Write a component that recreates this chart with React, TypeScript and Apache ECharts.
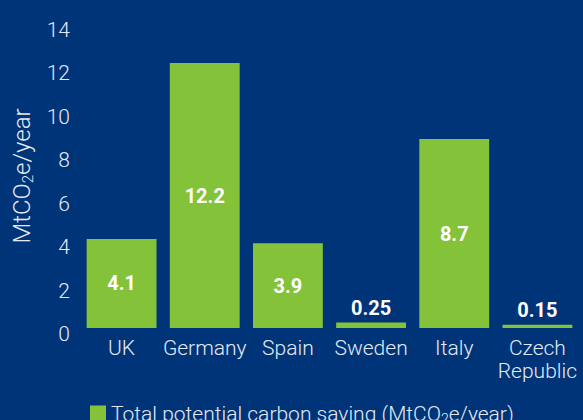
import React, { useEffect, useRef } from "react";
import * as echarts from "echarts";

const categories = ["UK", "Germany", "Spain", "Sweden", "Italy", "Czech\nRepublic"];
const values = [4.1, 12.2, 3.9, 0.25, 8.7, 0.15];
const labelInside = [true, true, true, false, true, false];
const seriesName = "Total potential carbon saving";
const yTicks = { min: 0, max: 14, interval: 2 };

const BG = "#003478";
const GREEN = "#84c23a";
const TEXT = "#e4eaf3";
const FONT = "Roboto";

export default function App() {
  const ref = useRef<HTMLDivElement>(null);
  useEffect(() => {
    if (!ref.current) return;
    const chart = echarts.init(ref.current, undefined, { renderer: "svg" });
    const data = values.map((v, i) => ({
      value: v,
      label: {
        position: labelInside[i] ? "inside" : "top",
        distance: 5,
      },
    }));
    chart.setOption({
      animation: false,
      backgroundColor: BG,
      textStyle: { fontFamily: FONT },
      grid: { left: 80, right: 4, top: 24, bottom: 92 },
      legend: {
        show: true,
        left: 85,
        top: 398,
        itemWidth: 16,
        itemHeight: 16,
        itemGap: 9,
        icon: "rect",
        data: [seriesName],
        formatter: () => "Total potential carbon saving (MtCO{sub|2}e/year)",
        textStyle: {
          color: TEXT,
          fontSize: 21,
          fontWeight: 300,
          fontFamily: FONT,
          rich: {
            sub: { fontSize: 14, color: TEXT, fontWeight: 300, fontFamily: FONT, padding: [10, 0, 0, 0] },
          },
        },
      },
      xAxis: {
        type: "category",
        data: categories,
        axisLine: { show: false },
        axisTick: { show: false },
        axisLabel: {
          color: TEXT,
          fontSize: 21,
          fontWeight: 300,
          fontFamily: FONT,
          margin: 8,
          lineHeight: 23,
          interval: 0,
        },
      },
      yAxis: {
        type: "value",
        min: yTicks.min,
        max: yTicks.max,
        interval: yTicks.interval,
        splitLine: { show: false },
        axisLine: { show: false },
        axisTick: { show: false },
        axisLabel: {
          color: TEXT,
          fontSize: 21,
          fontWeight: 300,
          fontFamily: FONT,
          margin: 10,
          verticalAlign: "top",
          lineHeight: 12,
        },
        name: "MtCO{sub|2}e/year",
        nameLocation: "middle",
        nameGap: 42,
        nameTextStyle: {
          color: TEXT,
          fontSize: 24,
          fontWeight: 300,
          fontFamily: FONT,
          rich: {
            sub: { fontSize: 15, color: TEXT, fontWeight: 300, fontFamily: FONT, padding: [12, 0, 0, 0] },
          },
        },
      },
      series: [
        {
          name: seriesName,
          type: "bar",
          data,
          barCategoryGap: "16%",
          itemStyle: { color: GREEN },
          label: {
            show: true,
            color: "#ffffff",
            fontSize: 20,
            fontWeight: "bold",
            fontFamily: FONT,
          },
        },
      ],
    });
    return () => chart.dispose();
  }, []);
  return (
    <div
      ref={ref}
      style={{ position: "fixed", left: 0, top: 0, width: 583, height: 420 }}
    />
  );
}
